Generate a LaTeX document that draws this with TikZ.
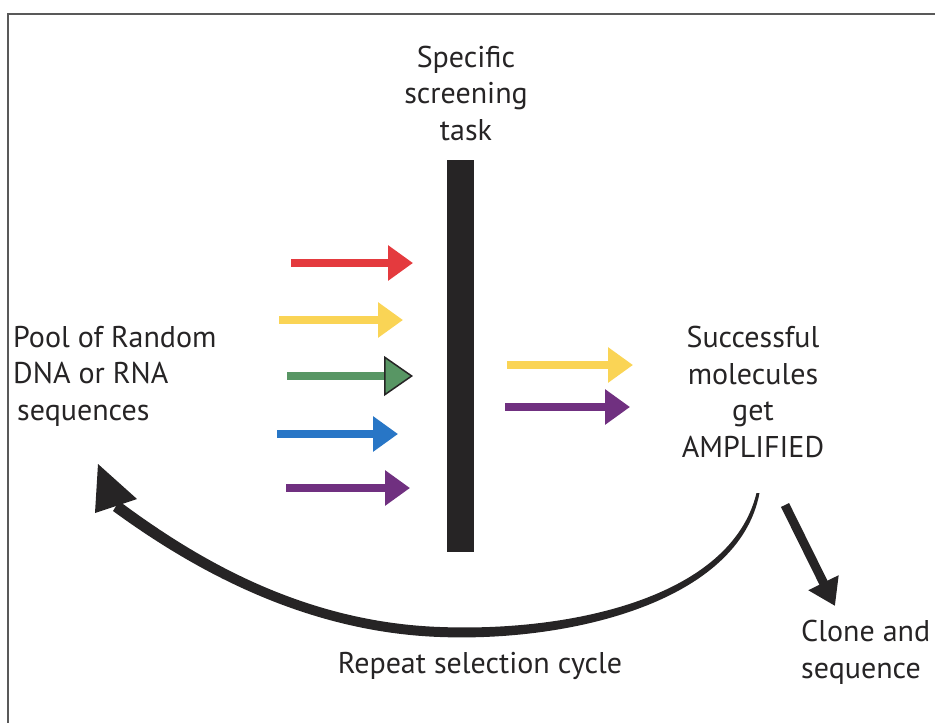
\documentclass[tikz,border=0pt]{standalone}
\usepackage{fontspec}
\setmainfont{PT Sans}
\definecolor{flowRed}{RGB}{228, 58, 62}
\definecolor{flowYellow}{RGB}{250, 212, 85}
\definecolor{flowGreen}{RGB}{88, 150, 100}
\definecolor{flowBlue}{RGB}{40, 118, 198}
\definecolor{flowPurple}{RGB}{112, 48, 128}
\definecolor{ink}{RGB}{38, 36, 37}
\usetikzlibrary{arrows.meta, positioning}

\begin{document}
\begin{tikzpicture}[x=1pt, y=-1pt,
    caption/.style={font=\fontsize{30}{36.5}\selectfont, text=ink, inner sep=0pt},
    flow/.style={line width=8pt, -{Triangle[length=25pt, width=34pt]}},
    outlined/.style={line width=8pt, -{Triangle[length=29pt, width=40pt, fill=flowGreen, color=ink, line width=1.5pt]}}]
    \useasboundingbox (0,0) rectangle (935,723);

    % Frame (cut off at right and bottom)
    \draw[line width=2pt, black!65] (8,723) -- (8,14) -- (935,14);

    % Labels (base = last line)
    \node[caption, anchor=base west, align=left] (pool) at (13,420)
        {Pool of Random\\DNA or RNA\\\hspace{4pt}sequences};
    \node[caption, anchor=base, align=center] (task) at (466,140)
        {Specific\\screening\\task};
    \node[caption, anchor=base, align=center] (amplified) at (753,457)
        {Successful\\molecules\\get\\AMPLIFIED};
    \node[caption, anchor=base] (repeat) at (480,673) {Repeat selection cycle};
    \node[caption, anchor=base west, align=left] (clone) at (801,678)
        {Clone and\\sequence};

    % Screening barrier
    \node[fill=ink, minimum width=27pt, minimum height=392pt, inner sep=0pt] (barrier) at (460,356) {};

    % Incoming molecules
    \foreach \style/\col/\xa/\xb/\y [count=\i] in {flow/flowRed/291/413/263,
                                                 flow/flowYellow/279/403/320,
                                                 outlined/flowGreen/287/413/376,
                                                 flow/flowBlue/277/398/434,
                                                 flow/flowPurple/286/410/488} {
        \coordinate (in\i a) at (\xa,\y);
        \coordinate (in\i b) at (\xb,\y);
        \draw[\style, \col] (in\i a) -- (in\i b);
    }

    % Molecules that pass
    \foreach \col/\xa/\xb/\y [count=\i] in {flowYellow/507/633/365, flowPurple/505/630/407} {
        \coordinate (out\i a) at (\xa,\y);
        \coordinate (out\i b) at (\xb,\y);
        \draw[flow, \col] (out\i a) -- (out\i b);
    }

    % Repeat cycle (tapered)
    \coordinate (cyclefrom) at (758,493);
    \coordinate (cycleto) at (116,506);
    \fill[ink] (756.5,493) .. controls (731,598) and (570,632) .. (440,627)
        .. controls (300,622) and (193,556) .. (119,501) -- (113,511)
        .. controls (187,565) and (300,632) .. (440,637)
        .. controls (570,642) and (739,602) .. (759.5,493) -- cycle;
    \fill[ink] (cycleto) -- (137,499) -- (98,464) -- (95,513) -- cycle;

    % Clone and sequence
    \coordinate (clonefrom) at (785,505);
    \coordinate (cloneto) at (835,606);
    \draw[ink, line width=9pt, -{Triangle[length=26pt, width=32pt]}] (clonefrom) -- (cloneto);
\end{tikzpicture}
\end{document}
